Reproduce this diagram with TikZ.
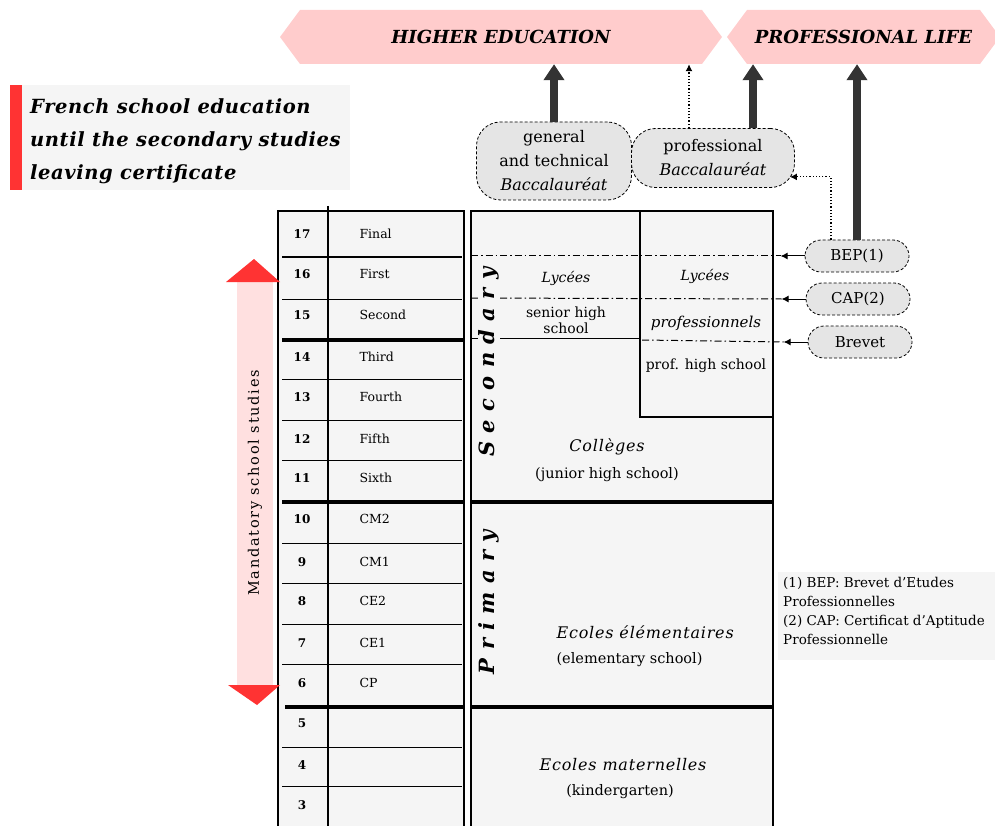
\documentclass[tikz,border=0pt]{standalone}
\usepackage{fontspec}
\setmainfont{DejaVu Serif}
\usetikzlibrary{arrows.meta,shapes.misc}
\definecolor{pinkfill}{HTML}{FFCCCC}
\definecolor{tabfill}{HTML}{F5F5F5}
\definecolor{nodefill}{HTML}{E5E5E5}
\definecolor{arrowgrey}{HTML}{333333}
\definecolor{redbar}{HTML}{FF3333}
\definecolor{shaftpink}{HTML}{FFE0E0}
\tikzset{
  bannertext/.style={minimum width=#1, minimum height=54pt, inner sep=0pt, font=\fontsize{18}{18}\selectfont\bfseries\itshape},
  bacbox/.style={draw, densely dashed, line width=0.8pt, fill=nodefill, rounded corners=24pt, align=center, inner sep=0pt, font=\fontsize{16}{24}\selectfont},
  certbox/.style={draw, densely dashed, line width=0.8pt, fill=nodefill, rounded rectangle, minimum width=104pt, minimum height=32pt, inner sep=0pt, font=\fontsize{15}{15}\selectfont},
  bigarrow/.style={line width=8pt, draw=arrowgrey, -{Triangle[width=20pt,length=16pt]}},
  dotarrow/.style={dotted, line width=1.2pt, -{Latex[length=7pt,width=7pt]}},
  ddline/.style={line width=1pt, dash pattern=on 7pt off 3pt on 1.5pt off 3pt},
  rowline/.style={line width=1pt},
  thickrow/.style={line width=4pt},
  numlab/.style={font=\fontsize{12}{12}\selectfont\bfseries},
  gradelab/.style={anchor=west, font=\fontsize{12.5}{12.5}\selectfont},
  itlab/.style={font=\fontsize{14}{14}\selectfont\itshape},
  bigit/.style={font=\fontsize{16}{16}\selectfont\itshape\addfontfeature{LetterSpace=5}},
  smlab/.style={font=\fontsize{14}{16}\selectfont, align=center},
  plainlab/.style={font=\fontsize{14.5}{14.5}\selectfont},
  vertlab/.style={rotate=90, fill=tabfill, inner sep=1pt, font=\fontsize{21}{21}\selectfont\bfseries\itshape\addfontfeature{LetterSpace=40}},
  certarrow/.style={line width=1pt, -{Latex[length=7pt,width=7pt]}}
}
\begin{document}
\begin{tikzpicture}[x=1pt,y=-1pt]
\useasboundingbox (0,0) rectangle (995,826);
% banners
\fill[pinkfill] (280,37) -- (300,10) -- (702,10) -- (722,37) -- (702,64) -- (300,64) -- cycle;
\fill[pinkfill] (727,37) -- (747,10) -- (980,10) -- (1000,37) -- (980,64) -- (747,64) -- cycle;
\node[bannertext=442pt] (he) at (501,37) {HIGHER EDUCATION};
\node[bannertext=273pt] (pl) at (863.5,37) {PROFESSIONAL LIFE};
% title
\fill[tabfill] (22,85) rectangle (350,190);
\fill[redbar] (10,85) rectangle (22,190);
\node[anchor=north west, align=left, inner sep=0pt, font=\fontsize{19.5}{33}\selectfont\bfseries\itshape\addfontfeature{LetterSpace=3}] (title) at (30,98) {French school education\\until the secondary studies\\leaving certificate};
% baccalaureat nodes
\node[bacbox, minimum width=155pt, minimum height=78pt] (gen) at (554,161) {general\\and technical\\\textit{Baccalauréat}};
\node[bacbox, minimum width=163pt, minimum height=59pt] (prof) at (713,158) {professional\\\textit{Baccalauréat}};
% certificate nodes
\node[certbox] (bep) at (857,256) {BEP(1)};
\node[certbox] (cap) at (858,299) {CAP(2)};
\node[certbox] (brevet) at (860,342) {Brevet};
% upward arrows
\draw[bigarrow] (gen.north) -- (gen.north |- he.south);
\draw[bigarrow] ([xshift=40pt]prof.north) -- ([xshift=40pt]prof.north |- pl.south);
\draw[dotarrow] ([xshift=-24pt]prof.north) -- ([xshift=-24pt]prof.north |- he.south);
\draw[bigarrow] (bep.north) -- (bep.north |- pl.south);
\draw[dotarrow] ([xshift=-26pt]bep.north) |- ([xshift=-5pt,yshift=11pt]prof.south east);
% left table
\fill[tabfill] (278,211) rectangle (464,830);
\draw[line width=1.2pt] (278,830) -- (278,211) -- (464,211) -- (464,830);
\draw[line width=1.2pt] (328,206) -- (328,830);
\foreach \y in {257,299,379,420,460,543,583,624,664,747,786} \draw[rowline] (282,\y) -- (462,\y);
\draw[thickrow] (282,340) -- (463,340);
\draw[thickrow] (282,502) -- (463,502);
\draw[thickrow] (285,707) -- (463,707);
\foreach \n/\lab/\yc in {17/Final/234,16/First/274,15/Second/315,14/Third/357,13/Fourth/397,12/Fifth/439,11/Sixth/478,10/CM2/519,9/CM1/562,8/CE2/601,7/CE1/643,6/CP/683,5//723,4//765,3//805}{
  \node[numlab] (n\n) at (302,\yc) {\n};
  \node[gradelab] (l\n) at (356,\yc) {\lab};
}
% mandatory arrow
\fill[shaftpink] (237,282) rectangle (273,687);
\fill[redbar] (226,282) -- (254,259) -- (280,282) -- cycle;
\fill[redbar] (228,685) -- (257,705) -- (280,685) -- cycle;
\node[rotate=90, font=\fontsize{14.5}{14.5}\selectfont\addfontfeature{LetterSpace=12}] (mand) at (255,483) {Mandatory school studies};
% right table
\fill[tabfill] (471,211) rectangle (773,830);
\draw[line width=1.2pt] (471,830) -- (471,211) -- (773,211) -- (773,830);
\draw[line width=1.2pt] (640,211) -- (640,417) -- (773,417);
\draw[thickrow] (471,502) -- (773,502);
\draw[thickrow] (471,707) -- (773,707);
\draw[rowline] (471,338) -- (640,338);
% certificate arrows and dash-dot lines
\draw[certarrow] (bep.west) -- ++(-24pt,0) coordinate (bepL);
\draw[certarrow] (cap.west) -- ++(-24pt,0) coordinate (capL);
\draw[certarrow] (brevet.west) -- ++(-24pt,0) coordinate (brevetL);
\draw[ddline] (471,256) -- (bepL);
\draw[ddline] (471,298) -- (capL);
\draw[ddline] (642,340) -- (brevetL);
% right table texts
\node[vertlab] (sec) at (489,362) {Secondary};
\node[vertlab] (prim) at (489,602) {Primary};
\node[itlab] (lyc1) at (566,278) {Lycées};
\node[smlab] (shs) at (566,320) {senior high\\school};
\node[itlab] (lyc2) at (705,276) {Lycées};
\node[itlab, font=\fontsize{15}{15}\selectfont\itshape] (lycp) at (706,323) {professionnels};
\node[plainlab, font=\fontsize{14}{14}\selectfont] (phs) at (706,366) {prof. high school};
\node[bigit] (col) at (607,447) {Collèges};
\node[plainlab] (jhs) at (607,475) {(junior high school)};
\node[bigit, anchor=west] (ecel) at (553,632) {Ecoles élémentaires};
\node[plainlab, anchor=west] (elem) at (553,660) {(elementary school)};
\node[bigit] (ecmat) at (623,765) {Ecoles maternelles};
\node[plainlab] (kind) at (620,792) {(kindergarten)};
% footnote
\fill[tabfill] (778,572) rectangle (995,660);
\node[anchor=north west, align=left, inner sep=0pt, font=\fontsize{13.5}{19}\selectfont] (foot) at (783,577) {(1) BEP: Brevet d'Etudes\\Professionnelles\\(2) CAP: Certificat d'Aptitude\\Professionnelle};
\end{tikzpicture}
\end{document}
